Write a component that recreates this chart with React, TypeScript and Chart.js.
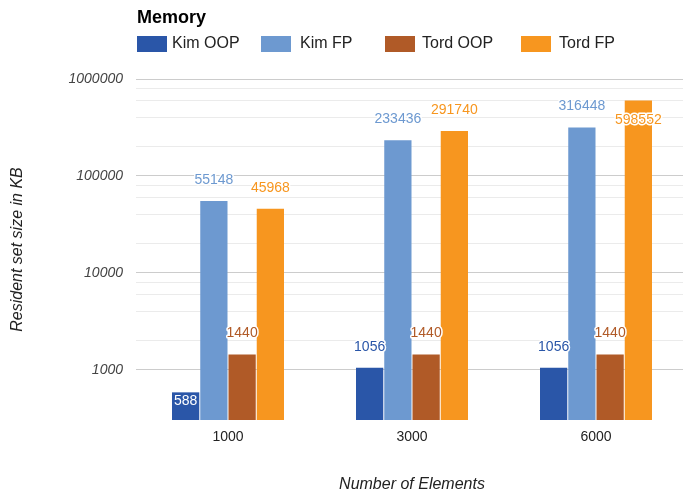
import React, { useEffect, useRef } from "react";
import { Chart, registerables } from "chart.js";

Chart.register(...registerables);

const FONT = '"Liberation Sans", Arial, Helvetica, sans-serif';

const chartTitle = "Memory";
const categories = ["1000", "3000", "6000"];
const seriesNames = ["Kim OOP", "Kim FP", "Tord OOP", "Tord FP"];
const kimOOP = [588, 1056, 1056];
const kimFP = [55148, 233436, 316448];
const tordOOP = [1440, 1440, 1440];
const tordFP = [45968, 291740, 598552];
const seriesColors = ["#2a56a8", "#6d99d0", "#b05a27", "#f7961f"];
const yTicks = [
  1000, 2000, 4000, 6000, 8000,
  10000, 20000, 40000, 60000, 80000,
  100000, 200000, 400000, 600000, 800000,
  1000000,
];
const yMin = 305;
const yMax = 1000000;
const xTitle = "Number of Elements";
const yTitle = "Resident set size in KB";

const isPow10 = (v: number) => {
  const l = Math.log10(v);
  return Math.abs(l - Math.round(l)) < 1e-9;
};

const legendPlugin = {
  id: "customLegend",
  afterDraw(chart: any) {
    const ctx = chart.ctx;
    ctx.save();
    ctx.textAlign = "left";
    ctx.textBaseline = "middle";
    ctx.fillStyle = "#000";
    ctx.font = `bold 18px ${FONT}`;
    ctx.fillText(chartTitle, 137, 18);
    const boxX = [137, 261, 385, 521];
    const textX = [172, 300, 422, 559];
    ctx.font = `16px ${FONT}`;
    seriesNames.forEach((name, i) => {
      ctx.fillStyle = seriesColors[i];
      ctx.fillRect(boxX[i], 36, 30, 16);
      ctx.fillStyle = "#222";
      ctx.fillText(name, textX[i], 44);
    });
    ctx.restore();
  },
};

const labelPlugin = {
  id: "barLabels",
  afterDatasetsDraw(chart: any) {
    const ctx = chart.ctx;
    const area = chart.chartArea;
    ctx.save();
    ctx.font = `14px ${FONT}`;
    ctx.textAlign = "center";
    ctx.textBaseline = "middle";
    ctx.lineJoin = "round";
    chart.data.datasets.forEach((ds: any, di: number) => {
      const meta = chart.getDatasetMeta(di);
      meta.data.forEach((bar: any, i: number) => {
        const v = ds.data[i] as number;
        const { x, y } = bar.getProps(["x", "y"], true);
        const text = String(v);
        let ty: number;
        let color = seriesColors[di];
        let halo = true;
        if (v < yTicks[0]) {
          ty = y + 9;
          color = "#ffffff";
          halo = false;
        } else if (y - 29 < area.top) {
          ty = y + 20;
        } else {
          ty = y - 21;
        }
        if (halo) {
          ctx.lineWidth = 3;
          ctx.strokeStyle = "#ffffff";
          ctx.strokeText(text, x, ty);
        }
        ctx.fillStyle = color;
        ctx.fillText(text, x, ty);
      });
    });
    ctx.restore();
  },
};

export default function App() {
  const canvasRef = useRef<HTMLCanvasElement | null>(null);

  useEffect(() => {
    if (!canvasRef.current) return;
    const seriesData = [kimOOP, kimFP, tordOOP, tordFP];
    const chart = new Chart(canvasRef.current, {
      type: "bar",
      data: {
        labels: categories,
        datasets: seriesNames.map((name, i) => ({
          label: name,
          data: seriesData[i],
          backgroundColor: seriesColors[i],
          borderWidth: 0,
          categoryPercentage: 0.614,
          barPercentage: 0.965,
        })),
      },
      options: {
        responsive: false,
        animation: false,
        layout: { padding: { top: 79, right: 12, bottom: 0, left: 0 } },
        plugins: {
          legend: { display: false },
          title: { display: false },
          tooltip: { enabled: false },
        },
        scales: {
          x: {
            grid: { display: false, drawTicks: false },
            border: { display: false },
            ticks: {
              font: { family: FONT, size: 14 },
              color: "#222",
              padding: 9,
            },
            title: {
              display: true,
              text: xTitle,
              font: { family: FONT, size: 16, style: "italic" },
              color: "#222",
              padding: { top: 0, bottom: 0 },
            },
            afterFit: (s: any) => {
              s.height = 74;
            },
          },
          y: {
            type: "logarithmic",
            min: yMin,
            max: yMax,
            afterBuildTicks: (s: any) => {
              s.ticks = yTicks.map((v) => ({ value: v }));
            },
            ticks: {
              autoSkip: false,
              callback: (v: any) => (isPow10(Number(v)) ? String(v) : ""),
              font: { family: FONT, size: 14, style: "italic" },
              color: "#444",
              padding: 13,
            },
            grid: {
              drawTicks: false,
              color: (c: any) =>
                c.tick && isPow10(c.tick.value) ? "#cccccc" : "#ebebeb",
            },
            border: { display: false },
            title: {
              display: true,
              text: yTitle,
              font: { family: FONT, size: 16, style: "italic" },
              color: "#222",
              padding: { top: 8, bottom: 0 },
            },
            afterFit: (s: any) => {
              s.width = 136;
            },
          },
        },
      } as any,
      plugins: [labelPlugin, legendPlugin],
    });
    return () => chart.destroy();
  }, []);

  return (
    <div
      style={{
        position: "fixed",
        left: 0,
        top: 0,
        width: 683,
        height: 494,
        overflow: "hidden",
        background: "#fff",
      }}
    >
      <canvas
        ref={canvasRef}
        width={700}
        height={494}
        style={{ display: "block", width: 700, height: 494 }}
      />
    </div>
  );
}
